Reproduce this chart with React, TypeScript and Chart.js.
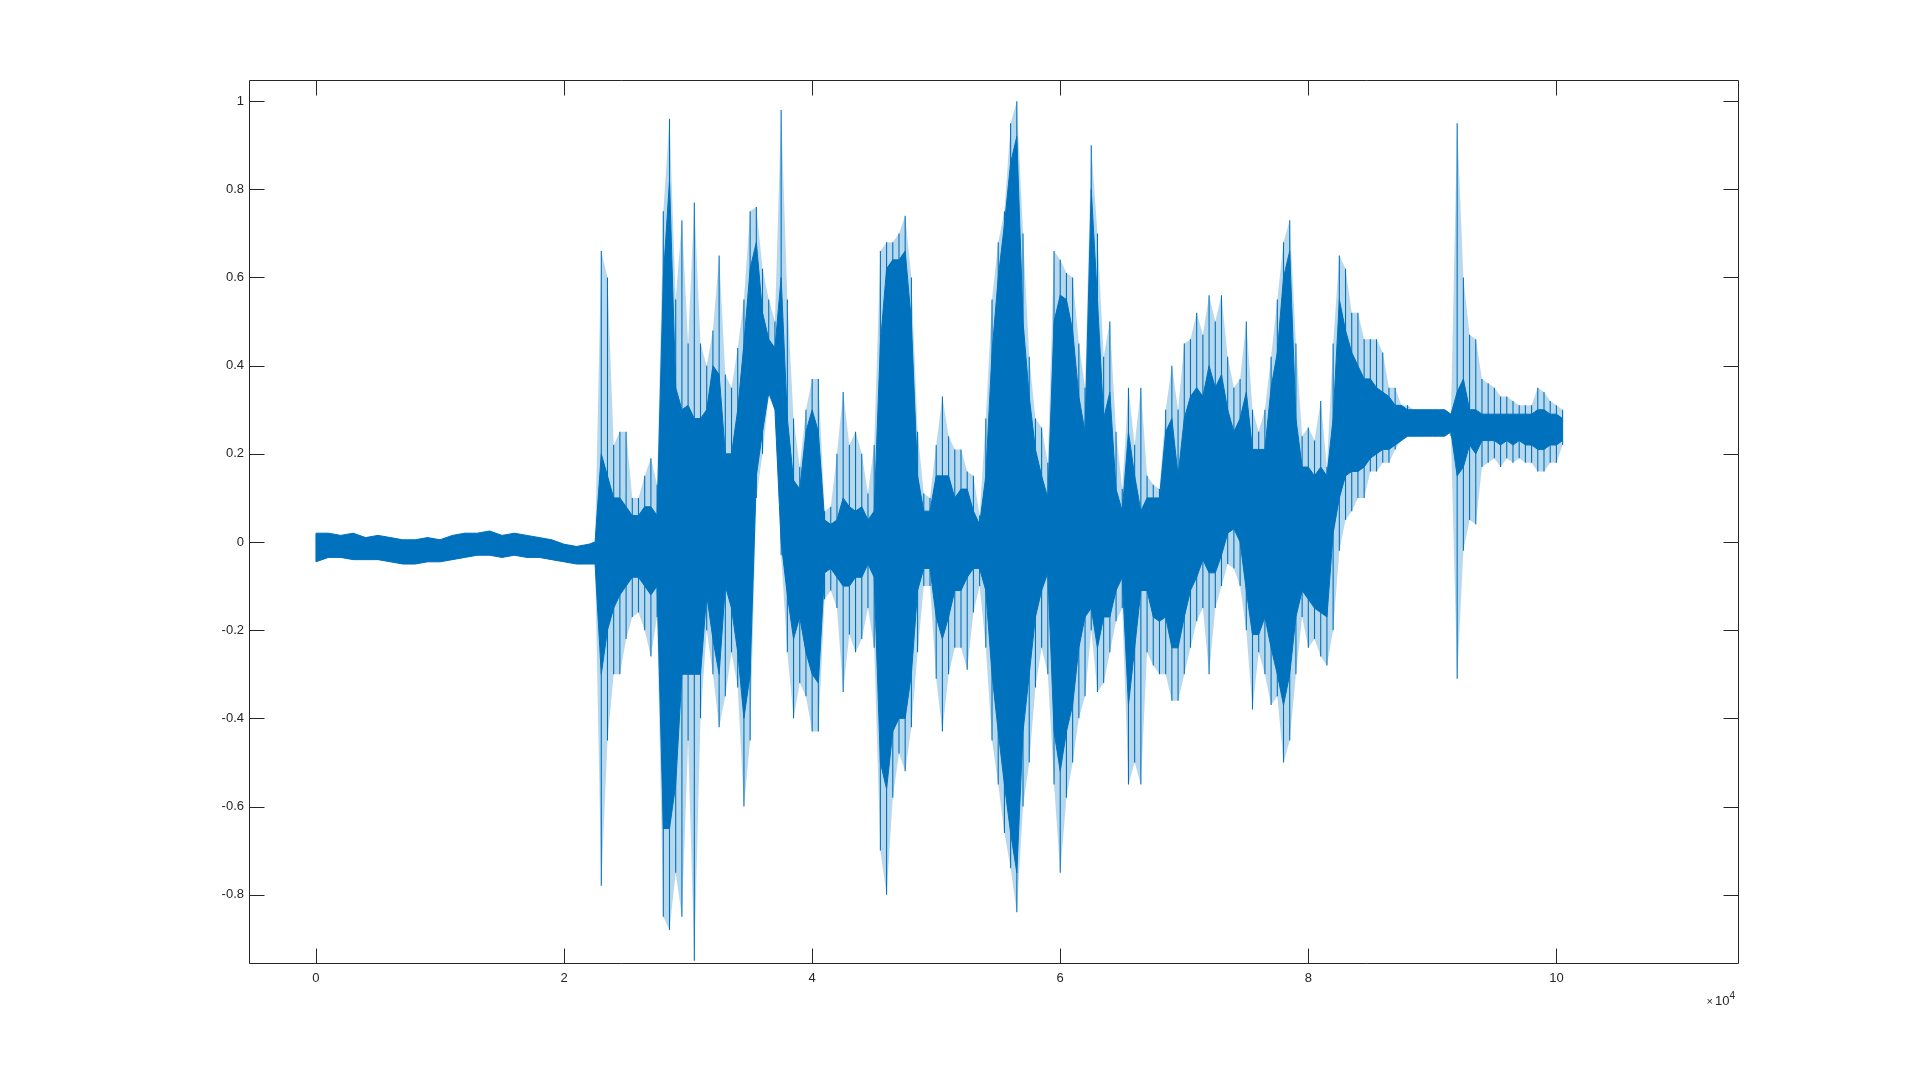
import React, { useEffect, useRef } from "react";
import { Chart, registerables } from "chart.js";

Chart.register(...registerables);

// sample index of each envelope reading
const sampleIdx: number[] = [
  0, 1000, 2000, 3000, 4000, 5000, 6000, 7000, 8000, 9000, 10000, 11000, 12000, 13000, 14000, 15000, 16000, 17000, 18000, 19000, 20000, 21000, 22000, 22500,
  23000, 23500, 24000, 24500, 25000, 25500, 26000, 26500, 27000, 27500, 28000, 28500, 29000, 29500, 30000, 30500, 31000, 31500, 32000, 32500, 33000, 33500, 34000, 34500, 35000, 35500, 36000, 36500, 37000, 37500, 38000, 38500, 39000, 39500, 40000, 40500,
  41000, 41500, 42000, 42500, 43000, 43500, 44000, 44500, 45000, 45500, 46000, 46500, 47000, 47500, 48000, 48500, 49000, 49500, 50000, 50500, 51000, 51500, 52000, 52500, 53000, 53500, 54000, 54500, 55000, 55500, 56000, 56500, 57000, 57500, 58000, 58500,
  59000, 59500, 60000, 60500, 61000, 61500, 62000, 62500, 63000, 63500, 64000, 64500, 65000, 65500, 66000, 66500, 67000, 67500, 68000, 68500, 69000, 69500, 70000, 70500, 71000, 71500, 72000, 72500, 73000, 73500, 74000, 74500, 75000, 75500, 76000, 76500,
  77000, 77500, 78000, 78500, 79000, 79500, 80000, 80500, 81000, 81500, 82000, 82500, 83000, 83500, 84000, 84500, 85000, 85500, 86000, 86500, 87000, 87500, 88000, 88500, 89000, 89500, 90000, 90500, 91000, 91500, 92000, 92500, 93000, 93500, 94000, 94500,
  95000, 95500, 96000, 96500, 97000, 97500, 98000, 98500, 99000, 99500, 100000, 100500,
];

// peak (spike) maximum of the waveform at each sample index
const upperEnv: number[] = [
  0.02, 0.02, 0.015, 0.02, 0.01, 0.015, 0.01, 0.005, 0.005, 0.01, 0.005, 0.015, 0.02, 0.02, 0.025, 0.015, 0.02, 0.015, 0.01, 0.005, -0.005, -0.01, -0.005, 0.0,
  0.66, 0.6, 0.22, 0.25, 0.25, 0.1, 0.1, 0.15, 0.19, 0.13, 0.75, 0.96, 0.55, 0.73, 0.45, 0.77, 0.45, 0.4, 0.48, 0.65, 0.38, 0.35, 0.44, 0.55, 0.75, 0.76, 0.62, 0.55, 0.5, 0.98, 0.55, 0.28, 0.17, 0.3, 0.37, 0.37,
  0.07, 0.08, 0.2, 0.34, 0.22, 0.25, 0.2, 0.11, 0.22, 0.66, 0.68, 0.68, 0.7, 0.74, 0.6, 0.25, 0.11, 0.1, 0.22, 0.33, 0.24, 0.21, 0.21, 0.16, 0.15, 0.06, 0.28, 0.55, 0.68, 0.75, 0.95, 1.0, 0.7, 0.42, 0.28, 0.26,
  0.18, 0.66, 0.64, 0.61, 0.6, 0.45, 0.35, 0.9, 0.7, 0.42, 0.5, 0.25, 0.12, 0.35, 0.22, 0.35, 0.15, 0.13, 0.12, 0.3, 0.4, 0.3, 0.45, 0.46, 0.52, 0.47, 0.56, 0.5, 0.56, 0.42, 0.35, 0.37, 0.5, 0.3, 0.25, 0.3,
  0.42, 0.55, 0.68, 0.73, 0.45, 0.24, 0.26, 0.23, 0.32, 0.17, 0.45, 0.65, 0.62, 0.52, 0.52, 0.46, 0.46, 0.46, 0.43, 0.35, 0.35, 0.31, 0.31, 0.3, 0.3, 0.3, 0.3, 0.29, 0.29, 0.29, 0.95, 0.6, 0.47, 0.46, 0.37, 0.36,
  0.35, 0.33, 0.33, 0.32, 0.31, 0.31, 0.31, 0.35, 0.34, 0.32, 0.31, 0.3,
];

// peak (spike) minimum of the waveform at each sample index
const lowerEnv: number[] = [
  -0.045, -0.035, -0.035, -0.04, -0.04, -0.04, -0.045, -0.05, -0.05, -0.045, -0.045, -0.04, -0.035, -0.03, -0.03, -0.035, -0.03, -0.035, -0.035, -0.04, -0.045, -0.05, -0.05, -0.05,
  -0.78, -0.45, -0.3, -0.3, -0.22, -0.17, -0.16, -0.2, -0.26, -0.17, -0.85, -0.88, -0.75, -0.85, -0.45, -0.95, -0.4, -0.2, -0.3, -0.42, -0.35, -0.25, -0.33, -0.6, -0.45, 0.1, 0.2, 0.33, 0.3, -0.03, -0.25, -0.4, -0.32, -0.35, -0.43, -0.43,
  -0.13, -0.11, -0.15, -0.34, -0.21, -0.25, -0.22, -0.15, -0.24, -0.7, -0.8, -0.58, -0.48, -0.52, -0.42, -0.25, -0.1, -0.1, -0.31, -0.43, -0.3, -0.24, -0.24, -0.29, -0.16, -0.1, -0.24, -0.45, -0.55, -0.66, -0.74, -0.84, -0.6, -0.5, -0.33, -0.24,
  -0.3, -0.55, -0.75, -0.58, -0.5, -0.4, -0.35, -0.2, -0.34, -0.32, -0.25, -0.18, -0.15, -0.55, -0.5, -0.55, -0.25, -0.28, -0.3, -0.3, -0.36, -0.36, -0.3, -0.24, -0.18, -0.15, -0.3, -0.15, -0.1, -0.05, -0.06, -0.1, -0.2, -0.38, -0.25, -0.3,
  -0.37, -0.35, -0.5, -0.45, -0.3, -0.17, -0.24, -0.22, -0.26, -0.28, -0.2, -0.02, 0.05, 0.07, 0.1, 0.1, 0.16, 0.16, 0.18, 0.18, 0.21, 0.23, 0.24, 0.24, 0.25, 0.25, 0.25, 0.25, 0.26, 0.24, -0.31, -0.02, 0.05, 0.04, 0.17, 0.18,
  0.19, 0.17, 0.19, 0.18, 0.19, 0.18, 0.18, 0.16, 0.16, 0.18, 0.18, 0.22,
];

// top edge of the solid (dense) body of the waveform
const coreUpper: number[] = [
  0.02, 0.02, 0.015, 0.02, 0.01, 0.015, 0.01, 0.005, 0.005, 0.01, 0.005, 0.015, 0.02, 0.02, 0.025, 0.015, 0.02, 0.015, 0.01, 0.005, -0.005, -0.01, -0.005, 0.0,
  0.2, 0.15, 0.1, 0.1, 0.08, 0.06, 0.06, 0.08, 0.08, 0.06, 0.6, 0.82, 0.35, 0.3, 0.31, 0.28, 0.28, 0.3, 0.4, 0.38, 0.2, 0.2, 0.3, 0.45, 0.62, 0.68, 0.52, 0.46, 0.44, 0.6, 0.28, 0.14, 0.12, 0.25, 0.3, 0.25,
  0.05, 0.04, 0.05, 0.1, 0.08, 0.07, 0.08, 0.05, 0.07, 0.45, 0.62, 0.64, 0.64, 0.66, 0.5, 0.15, 0.07, 0.07, 0.15, 0.15, 0.15, 0.1, 0.12, 0.12, 0.07, 0.04, 0.15, 0.43, 0.6, 0.72, 0.86, 0.92, 0.5, 0.33, 0.21, 0.15,
  0.1, 0.5, 0.56, 0.55, 0.48, 0.33, 0.25, 0.8, 0.55, 0.28, 0.34, 0.12, 0.07, 0.25, 0.15, 0.07, 0.1, 0.1, 0.1, 0.25, 0.28, 0.15, 0.28, 0.33, 0.35, 0.33, 0.4, 0.35, 0.38, 0.3, 0.25, 0.28, 0.34, 0.21, 0.21, 0.21,
  0.35, 0.43, 0.6, 0.66, 0.28, 0.17, 0.17, 0.15, 0.17, 0.15, 0.28, 0.55, 0.48, 0.43, 0.4, 0.37, 0.37, 0.35, 0.34, 0.33, 0.31, 0.31, 0.3, 0.3, 0.3, 0.3, 0.3, 0.3, 0.3, 0.29, 0.34, 0.37, 0.3, 0.3, 0.29, 0.29,
  0.29, 0.29, 0.29, 0.29, 0.29, 0.29, 0.29, 0.3, 0.3, 0.29, 0.29, 0.28,
];

// bottom edge of the solid (dense) body of the waveform
const coreLower: number[] = [
  -0.045, -0.035, -0.035, -0.04, -0.04, -0.04, -0.045, -0.05, -0.05, -0.045, -0.045, -0.04, -0.035, -0.03, -0.03, -0.035, -0.03, -0.035, -0.035, -0.04, -0.045, -0.05, -0.05, -0.05,
  -0.3, -0.2, -0.15, -0.12, -0.1, -0.08, -0.08, -0.1, -0.12, -0.1, -0.65, -0.65, -0.55, -0.3, -0.3, -0.3, -0.3, -0.12, -0.22, -0.3, -0.1, -0.15, -0.25, -0.4, -0.3, 0.15, 0.25, 0.34, 0.3, 0.0, -0.12, -0.22, -0.17, -0.25, -0.3, -0.32,
  -0.07, -0.06, -0.08, -0.1, -0.1, -0.08, -0.08, -0.05, -0.08, -0.5, -0.56, -0.43, -0.4, -0.4, -0.3, -0.11, -0.06, -0.06, -0.17, -0.22, -0.17, -0.11, -0.11, -0.08, -0.06, -0.06, -0.11, -0.3, -0.43, -0.55, -0.66, -0.75, -0.43, -0.3, -0.17, -0.11,
  -0.07, -0.43, -0.52, -0.43, -0.37, -0.24, -0.17, -0.15, -0.24, -0.17, -0.17, -0.11, -0.08, -0.37, -0.24, -0.11, -0.11, -0.17, -0.18, -0.17, -0.24, -0.24, -0.17, -0.11, -0.08, -0.04, -0.07, -0.07, -0.03, 0.02, 0.03, 0.0, -0.11, -0.21, -0.21, -0.17,
  -0.24, -0.3, -0.37, -0.3, -0.17, -0.11, -0.13, -0.15, -0.16, -0.17, 0.02, 0.1, 0.15, 0.16, 0.16, 0.17, 0.19, 0.2, 0.21, 0.21, 0.22, 0.23, 0.24, 0.24, 0.24, 0.24, 0.24, 0.24, 0.24, 0.25, 0.15, 0.17, 0.22, 0.2, 0.23, 0.23,
  0.23, 0.22, 0.23, 0.22, 0.23, 0.22, 0.22, 0.21, 0.21, 0.22, 0.22, 0.23,
];

const xTickValues: number[] = [0, 20000, 40000, 60000, 80000, 100000];
const yTickValues: number[] = [-0.8, -0.6, -0.4, -0.2, 0, 0.2, 0.4, 0.6, 0.8, 1];
const xLimits: number[] = [-5400, 114640];
const yLimits: number[] = [-0.955, 1.048];
const xExponentBase = "10";
const xExponent = "4";

const LINE_COLOR = "#0072BD";
const SPREAD_COLOR = "rgba(0,114,189,0.28)";
const AXIS_COLOR = "#262626";
const FONT = "'Liberation Sans', Arial, Helvetica, sans-serif";

const boxPlugin = {
  id: "matlabBox",
  afterDatasetsDraw(chart: any) {
    const { ctx, chartArea, scales } = chart;
    const { left, right, top, bottom } = chartArea;
    const xs = scales.x;
    const ys = scales.y;
    const tl = 15;
    ctx.save();
    ctx.strokeStyle = AXIS_COLOR;
    ctx.lineWidth = 1;
    ctx.beginPath();
    const L = Math.round(left) + 0.5;
    const R = Math.round(right) + 0.5;
    const T = Math.round(top) + 0.5;
    const B = Math.round(bottom) + 0.5;
    ctx.rect(L, T, R - L, B - T);
    xTickValues.forEach((v) => {
      const px = Math.round(xs.getPixelForValue(v)) + 0.5;
      ctx.moveTo(px, B);
      ctx.lineTo(px, B - tl);
      ctx.moveTo(px, T);
      ctx.lineTo(px, T + tl);
    });
    yTickValues.forEach((v) => {
      const py = Math.round(ys.getPixelForValue(v)) + 0.5;
      ctx.moveTo(L, py);
      ctx.lineTo(L + tl, py);
      ctx.moveTo(R, py);
      ctx.lineTo(R - tl, py);
    });
    ctx.stroke();

    // exponent label for the x axis
    ctx.fillStyle = AXIS_COLOR;
    ctx.textBaseline = "alphabetic";
    ctx.textAlign = "left";
    ctx.font = `11px ${FONT}`;
    ctx.fillText("\u00d7", R - 32, B + 41);
    ctx.font = `13px ${FONT}`;
    ctx.fillText(xExponentBase, R - 23.5, B + 41);
    ctx.font = `10px ${FONT}`;
    ctx.fillText(xExponent, R - 9, B + 35);
    ctx.restore();
  },
};

export default function App() {
  const canvasRef = useRef<HTMLCanvasElement | null>(null);

  useEffect(() => {
    document.body.style.margin = "0";
    document.body.style.background = "#ffffff";
    const canvas = canvasRef.current;
    if (!canvas) return;

    const pts = (arr: number[]) => sampleIdx.map((s, i) => ({ x: s, y: arr[i] }));
    // each reading drawn as a vertical stroke from its minimum to its maximum
    const strokes: { x: number; y: number | null }[] = [];
    sampleIdx.forEach((s, i) => {
      strokes.push({ x: s, y: lowerEnv[i] });
      strokes.push({ x: s, y: upperEnv[i] });
      strokes.push({ x: s, y: null });
    });

    const common = { pointRadius: 0, tension: 0 };

    const chart = new Chart(canvas, {
      type: "line",
      data: {
        datasets: [
          {
            label: "strokes",
            data: strokes,
            borderColor: LINE_COLOR,
            borderWidth: 1.1,
            spanGaps: false,
            fill: false,
            ...common,
          },
          {
            label: "coreUpper",
            data: pts(coreUpper),
            borderColor: LINE_COLOR,
            backgroundColor: LINE_COLOR,
            borderWidth: 1,
            fill: "+1",
            ...common,
          },
          {
            label: "coreLower",
            data: pts(coreLower),
            borderColor: LINE_COLOR,
            borderWidth: 1,
            fill: false,
            ...common,
          },
          {
            label: "upper",
            data: pts(upperEnv),
            borderColor: "rgba(0,0,0,0)",
            backgroundColor: SPREAD_COLOR,
            borderWidth: 0,
            fill: "+1",
            ...common,
          },
          {
            label: "lower",
            data: pts(lowerEnv),
            borderColor: "rgba(0,0,0,0)",
            borderWidth: 0,
            fill: false,
            ...common,
          },
        ],
      },
      options: {
        animation: false,
        responsive: false,
        maintainAspectRatio: false,
        layout: { padding: { left: 0, top: 80, right: 182, bottom: 0 } },
        plugins: {
          legend: { display: false },
          tooltip: { enabled: false },
        },
        scales: {
          x: {
            type: "linear",
            min: xLimits[0],
            max: xLimits[1],
            grid: { display: false, drawTicks: false },
            border: { display: false },
            afterFit: (s: any) => {
              s.height = 119;
            },
            afterBuildTicks: (s: any) => {
              s.ticks = xTickValues.map((v) => ({ value: v }));
            },
            ticks: {
              padding: 8,
              color: AXIS_COLOR,
              font: { family: FONT, size: 13 },
              maxRotation: 0,
              autoSkip: false,
              callback: (v: any) => String(Number(v) / 10000),
            },
          },
          y: {
            type: "linear",
            min: yLimits[0],
            max: yLimits[1],
            grid: { display: false, drawTicks: false },
            border: { display: false },
            afterFit: (s: any) => {
              s.width = 249;
            },
            afterBuildTicks: (s: any) => {
              s.ticks = yTickValues.map((v) => ({ value: v }));
            },
            ticks: {
              padding: 5,
              color: AXIS_COLOR,
              font: { family: FONT, size: 13 },
              autoSkip: false,
              callback: (v: any) => String(Number(Number(v).toFixed(1))),
            },
          },
        },
      },
      plugins: [boxPlugin],
    });

    return () => {
      chart.destroy();
    };
  }, []);

  return (
    <div style={{ width: 1920, height: 1082, background: "#fff" }}>
      <canvas ref={canvasRef} width={1920} height={1082} style={{ display: "block" }} />
    </div>
  );
}
